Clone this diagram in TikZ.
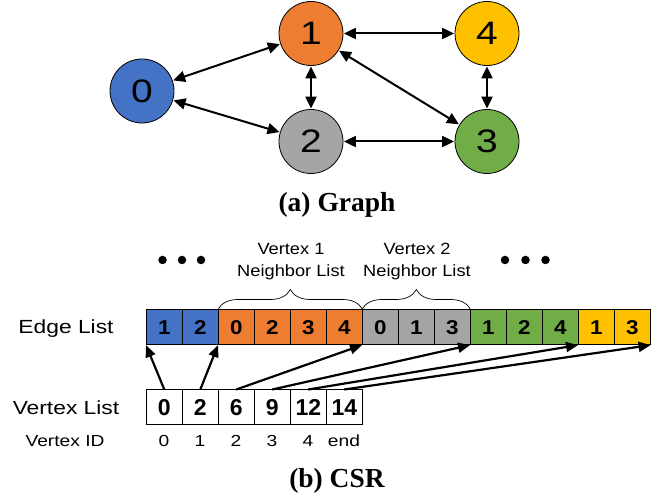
\documentclass[tikz,border=0pt]{standalone}
\usepackage{fontspec}
\setmainfont{Liberation Sans}
\newfontfamily\widefont{Liberation Sans}[FakeStretch=1.2]
\newfontfamily\midfont{Liberation Sans}[FakeStretch=1.12]
\newfontfamily\capfont{Liberation Serif}
\usetikzlibrary{arrows.meta,decorations.pathreplacing}
\definecolor{cblue}{HTML}{4472C4}
\definecolor{corange}{HTML}{ED7D31}
\definecolor{cgray}{HTML}{A5A5A5}
\definecolor{cgreen}{HTML}{70AD47}
\definecolor{cyellow}{HTML}{FFC000}
\begin{document}
\begin{tikzpicture}[x=1pt,y=-1pt,
  vert/.style={circle,draw=black,line width=0.8pt,minimum size=64pt,inner sep=0pt,font=\widefont\fontsize{32.5}{33}\selectfont},
  garrow/.style={line width=2pt,{Triangle[length=12pt,width=11pt]}-{Triangle[length=12pt,width=11pt]},shorten <=0.5pt,shorten >=0.5pt},
  cell/.style={draw=black,line width=0.6pt,minimum width=36pt,minimum height=35pt,inner sep=0pt,anchor=north west,font=\midfont\bfseries\fontsize{20}{20}\selectfont},
  vcell/.style={cell,font=\bfseries\fontsize{23}{23}\selectfont},
  parrow/.style={line width=2.2pt,-{Triangle[length=12pt,width=10pt]}},
  lbl/.style={font=\widefont\fontsize{19}{19}\selectfont,anchor=base},
  small/.style={font=\widefont\fontsize{16}{16}\selectfont,anchor=base},
  nbl/.style={font=\midfont\fontsize{16.3}{16.3}\selectfont,anchor=base},
  captext/.style={font=\capfont\bfseries\fontsize{27.5}{28}\selectfont,anchor=base},
  dotnode/.style={circle,fill=black,minimum size=8.5pt,inner sep=0pt},
  brc/.style={decorate,decoration={brace,amplitude=20pt},line width=0.7pt}
]
\useasboundingbox (0,0) rectangle (665,497);
% graph
\node[vert,fill=cblue] (n0) at (142,91) {0};
\node[vert,fill=corange] (n1) at (311,33.5) {1};
\node[vert,fill=cgray] (n2) at (311,141.5) {2};
\node[vert,fill=cyellow] (n4) at (487,33.5) {4};
\node[vert,fill=cgreen] (n3) at (487,141.5) {3};
\draw[garrow] (n0) -- (n1);
\draw[garrow] (n0) -- (n2);
\draw[garrow] (n1) -- (n2);
\draw[garrow] (n1) -- (n4);
\draw[garrow] (n1) -- (n3);
\draw[garrow] (n2) -- (n3);
\draw[garrow] (n4) -- (n3);
\node[captext] (capa) at (337,211.5) {(a) Graph};
% edge list
\foreach \v/\c [count=\i from 0] in {1/cblue,2/cblue,0/corange,2/corange,3/corange,4/corange,0/cgray,1/cgray,3/cgray,1/cgreen,2/cgreen,4/cgreen,1/cyellow,3/cyellow}{
  \node[cell,fill=\c] (e\i) at (146+36*\i,309.5) {\v};
}
\node[lbl] (el) at (66,333.3) {Edge List};
% vertex list
\foreach \v [count=\i from 0] in {0,2,6,9,12,14}{
  \node[vcell,fill=white] (v\i) at (146+36*\i,389.5) {\v};
}
\node[lbl] (vl) at (66,415) {Vertex List};
\node[small] (vid) at (65,446.7) {Vertex ID};
\foreach \t [count=\i from 0] in {0,1,2,3,4,end}{
  \node[small] (id\i) at (164+36*\i,446.7) {\t};
}
% pointers
\draw[parrow] (v0.north) -- (e0.south west);
\draw[parrow] (v1.north) -- (e2.south west);
\draw[parrow] (v2.north) -- (e6.south west);
\draw[parrow] (v3.north) -- (e9.south west);
\draw[parrow] (v4.north) -- (e12.south west);
\draw[parrow] (v5.north) -- (e13.south east);
% braces
\draw[brc] (e2.north west) -- (e5.north east);
\draw[brc] (e6.north west) -- (e8.north east);
\node[nbl] (t1a) at (291,255) {Vertex 1};
\node[nbl] (t1b) at (291,276.7) {Neighbor List};
\node[nbl] (t2a) at (417,255) {Vertex 2};
\node[nbl] (t2b) at (417,276.7) {Neighbor List};
% dots
\foreach \x [count=\i] in {162.5,182,201}{ \node[dotnode] (dl\i) at (\x,260) {}; }
\foreach \x [count=\i] in {505,525.5,545.5}{ \node[dotnode] (dr\i) at (\x,260) {}; }
\node[captext] (capb) at (337,487) {(b) CSR};
\end{tikzpicture}
\end{document}
